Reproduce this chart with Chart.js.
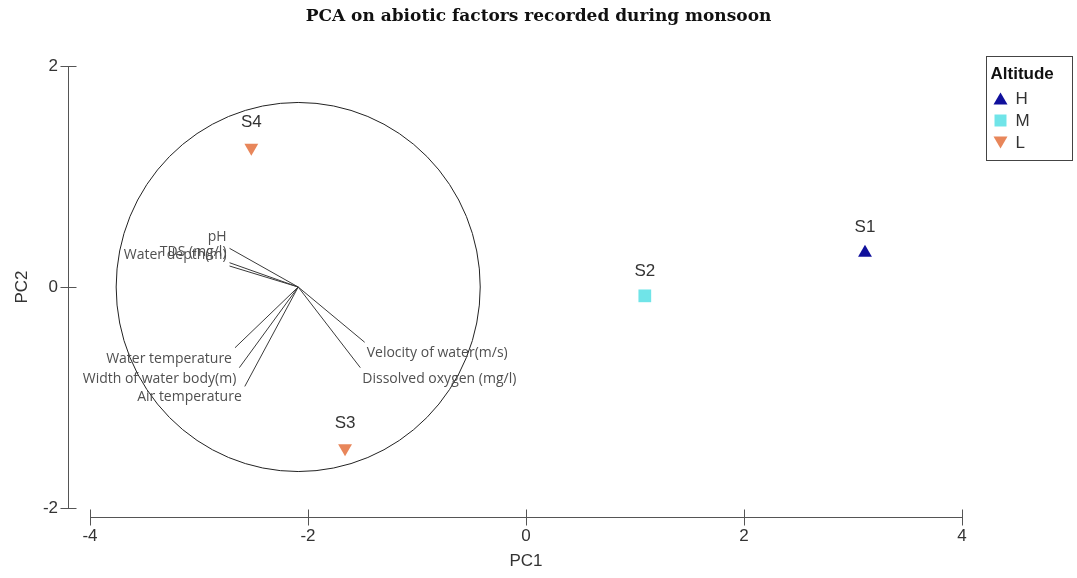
<!DOCTYPE html>
<html>
<head>
<meta charset="utf-8">
<script src="https://cdn.jsdelivr.net/npm/chart.js@4.4.1/dist/chart.umd.min.js"></script>
<style>
  html, body { margin: 0; padding: 0; background: #fff; }
  #wrap { width: 1077px; height: 578px; }
</style>
</head>
<body>
<div id="wrap"><canvas id="pcaChart"></canvas></div>
<script>
// site scores on PC1 / PC2
const sites = ['S1', 'S2', 'S3', 'S4'];
const siteAltitude = ['H', 'M', 'L', 'L'];
const pc1Scores = [3.11, 1.09, -1.66, -2.52];
const pc2Scores = [0.31, -0.08, -1.46, 1.26];

const altitudes = ['H', 'M', 'L'];

// loading vectors (end points), all start from the same origin
const variables = ['pH', 'TDS (mg/l)', 'Water depth(m)', 'Water temperature',
    'Width of water body(m)', 'Air temperature', 'Velocity of water(m/s)', 'Dissolved oxygen (mg/l)'];
const loadX = [-2.72, -2.72, -2.72, -2.67, -2.63, -2.58, -1.48, -1.52];
const loadY = [0.35, 0.22, 0.19, -0.55, -0.73, -0.90, -0.50, -0.73];
const vectorOrigin = [-2.09, 0.0];
const circleRadius = 1.67;

const xTicks = [-4, -2, 0, 2, 4];
const yTicks = [-2, 0, 2];

const chartTitle = 'PCA on abiotic factors recorded during monsoon';

const altColors = { H: '#10109c', M: '#70e4e8', L: '#e8865a' };
const altStyles = {
    H: { pointStyle: 'triangle', rotation: 0, radius: 8 },
    M: { pointStyle: 'rect', rotation: 0, radius: 9 },
    L: { pointStyle: 'triangle', rotation: 180, radius: 8 }
};

const textColor = '#333';
const labelFont = '17px "Liberation Sans", Arial, sans-serif';

// scatter datasets, one per altitude class
const siteSets = altitudes.map(alt => {
    const pts = [];
    sites.forEach((s, i) => {
        if (siteAltitude[i] === alt) pts.push({ x: pc1Scores[i], y: pc2Scores[i], name: s });
    });
    return {
        type: 'scatter',
        label: alt,
        data: pts,
        backgroundColor: altColors[alt],
        borderColor: altColors[alt],
        borderWidth: 0,
        pointStyle: altStyles[alt].pointStyle,
        rotation: altStyles[alt].rotation,
        pointRadius: altStyles[alt].radius,
        pointHoverRadius: altStyles[alt].radius
    };
});

// one line per loading vector
const vectorSets = variables.map((v, i) => ({
    type: 'line',
    label: v,
    data: [{ x: vectorOrigin[0], y: vectorOrigin[1] }, { x: loadX[i], y: loadY[i] }],
    borderColor: '#3a3a3a',
    borderWidth: 1,
    pointRadius: 0,
    fill: false,
    isVector: true
}));

// circle of correlations + vector labels
const biplotExtras = {
    id: 'biplotExtras',
    beforeDatasetsDraw(chart) {
        const { ctx, scales: { x, y } } = chart;
        const cx = x.getPixelForValue(vectorOrigin[0]);
        const cy = y.getPixelForValue(vectorOrigin[1]);
        const rx = Math.abs(x.getPixelForValue(vectorOrigin[0] + circleRadius) - cx);
        const ry = Math.abs(y.getPixelForValue(vectorOrigin[1] + circleRadius) - cy);
        ctx.save();
        ctx.strokeStyle = '#222';
        ctx.lineWidth = 1;
        ctx.beginPath();
        ctx.ellipse(cx, cy, rx, ry, 0, 0, Math.PI * 2);
        ctx.stroke();
        ctx.restore();
    },
    afterDatasetsDraw(chart) {
        const { ctx } = chart;
        ctx.save();
        ctx.font = '14px "Open Sans", sans-serif';
        ctx.fillStyle = '#505050';
        ctx.textBaseline = 'middle';
        chart.data.datasets.forEach((ds, di) => {
            if (!ds.isVector) return;
            const end = chart.getDatasetMeta(di).data[1];
            const left = ds.data[1].x < vectorOrigin[0];
            const up = ds.data[1].y > vectorOrigin[1];
            ctx.textAlign = left ? 'right' : 'left';
            ctx.fillText(ds.label, end.x + (left ? -3 : 2), end.y + (up ? -11 : 11));
        });
        // site names above the markers
        ctx.font = labelFont;
        ctx.fillStyle = textColor;
        ctx.textAlign = 'center';
        chart.data.datasets.forEach((ds, di) => {
            if (ds.type !== 'scatter') return;
            chart.getDatasetMeta(di).data.forEach((pt, k) => {
                ctx.fillText(ds.data[k].name, pt.x, pt.y - 25);
            });
        });
        ctx.restore();
    }
};

// detached axis lines like the original software draws them, plus the page title
const axisLines = {
    id: 'axisLines',
    afterDraw(chart) {
        const { ctx, chartArea, scales: { x, y } } = chart;
        const ax = Math.round(chartArea.left - 22) + 0.5;
        const ay = Math.round(chartArea.bottom + 9) + 0.5;
        ctx.save();
        ctx.strokeStyle = '#555';
        ctx.lineWidth = 1;
        ctx.beginPath();
        ctx.moveTo(ax, y.getPixelForValue(yTicks[yTicks.length - 1]));
        ctx.lineTo(ax, y.getPixelForValue(yTicks[0]));
        yTicks.forEach(t => {
            const py = Math.round(y.getPixelForValue(t)) + 0.5;
            ctx.moveTo(ax - 8, py);
            ctx.lineTo(ax + 8, py);
        });
        ctx.moveTo(x.getPixelForValue(xTicks[0]), ay);
        ctx.lineTo(x.getPixelForValue(xTicks[xTicks.length - 1]), ay);
        xTicks.forEach(t => {
            const px = Math.round(x.getPixelForValue(t)) + 0.5;
            ctx.moveTo(px, ay - 8);
            ctx.lineTo(px, ay + 8);
        });
        ctx.stroke();

        ctx.fillStyle = '#111';
        ctx.font = 'bold 17px "DejaVu Serif", serif';
        ctx.textAlign = 'center';
        ctx.textBaseline = 'middle';
        ctx.fillText(chartTitle, chart.width / 2, 17);
        ctx.restore();
    }
};

// legend box on the right
const altitudeLegend = {
    id: 'altitudeLegend',
    afterDraw(chart) {
        const { ctx } = chart;
        const bx = chart.chartArea.right + 24.5;
        const by = 56.5;
        ctx.save();
        ctx.strokeStyle = '#444';
        ctx.lineWidth = 1;
        ctx.strokeRect(bx, by, 86, 104);
        ctx.fillStyle = '#111';
        ctx.textBaseline = 'middle';
        ctx.font = 'bold 17px "Liberation Sans", Arial, sans-serif';
        ctx.fillText('Altitude', bx + 4, by + 18);
        ctx.font = labelFont;
        altitudes.forEach((alt, i) => {
            const my = by + 42 + i * 22;
            const mx = bx + 14;
            ctx.fillStyle = altColors[alt];
            ctx.beginPath();
            if (altStyles[alt].pointStyle === 'rect') {
                ctx.rect(mx - 6, my - 6, 12, 12);
            } else if (altStyles[alt].rotation === 0) {
                ctx.moveTo(mx, my - 6);
                ctx.lineTo(mx + 7, my + 6);
                ctx.lineTo(mx - 7, my + 6);
            } else {
                ctx.moveTo(mx - 7, my - 6);
                ctx.lineTo(mx + 7, my - 6);
                ctx.lineTo(mx, my + 6);
            }
            ctx.closePath();
            ctx.fill();
            ctx.fillStyle = textColor;
            ctx.fillText(alt, mx + 15, my + 1);
        });
        ctx.restore();
    }
};

const ctx = document.getElementById('pcaChart').getContext('2d');
const pcaChart = new Chart(ctx, {
    data: { datasets: [...vectorSets, ...siteSets] },
    options: {
        responsive: true,
        maintainAspectRatio: false,
        animation: false,
        devicePixelRatio: 1,
        layout: { padding: { left: 0, right: 115, top: 66, bottom: 0 } },
        plugins: {
            legend: { display: false },
            tooltip: { enabled: false },
            title: { display: false }
        },
        scales: {
            x: {
                type: 'linear',
                min: xTicks[0],
                max: xTicks[xTicks.length - 1],
                afterBuildTicks: s => { s.ticks = xTicks.map(v => ({ value: v })); },
                afterFit: s => { s.height = 70; },
                grid: { display: false, drawTicks: false },
                border: { display: false },
                ticks: { color: textColor, font: { family: '"Liberation Sans", Arial', size: 17 }, padding: 18 },
                title: {
                    display: true, text: 'PC1', color: textColor,
                    font: { family: '"Liberation Sans", Arial', size: 17 },
                    padding: { top: 0, bottom: 6 }
                }
            },
            y: {
                type: 'linear',
                min: yTicks[0],
                max: yTicks[yTicks.length - 1],
                afterBuildTicks: s => { s.ticks = yTicks.map(v => ({ value: v })); },
                afterFit: s => { s.width = 90; },
                grid: { display: false, drawTicks: false },
                border: { display: false },
                ticks: { color: textColor, font: { family: '"Liberation Sans", Arial', size: 17 }, padding: 32 },
                title: {
                    display: true, text: 'PC2', color: textColor,
                    font: { family: '"Liberation Sans", Arial', size: 17 },
                    padding: { top: 12, bottom: 0 }
                }
            }
        }
    },
    plugins: [biplotExtras, axisLines, altitudeLegend]
});
</script>
</body>
</html>
